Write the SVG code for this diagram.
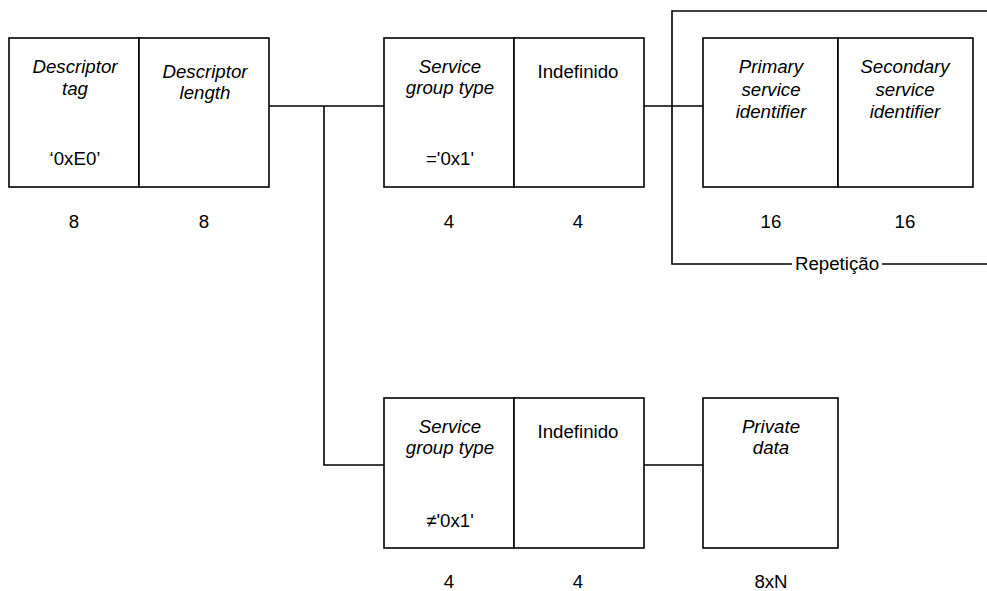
<svg xmlns="http://www.w3.org/2000/svg" width="987" height="591" viewBox="0 0 987 591">
<style>
.box{fill:#fff;stroke:#000;stroke-width:1.6}
.ln{fill:none;stroke:#000;stroke-width:1.6}
text{font-family:"Liberation Sans",Arial,sans-serif;font-size:18.7px;fill:#000;text-anchor:middle}
.it{font-style:italic}
</style>
<rect width="987" height="591" fill="#fff"/>
<g id="connectors">
<polyline class="ln" points="269,106 384,106"/>
<polyline class="ln" points="324,106 324,465 384,465"/>
<polyline class="ln" points="644,106 703,106"/>
<polyline class="ln" points="644,465 703,465"/>
<polyline class="ln" points="987,11 672,11 672,264 792,264"/>
<polyline class="ln" points="882,264 987,264"/>
<text x="837" y="270">Repetição</text>
</g>
<g id="descriptor_tag">
<rect class="box" x="9" y="38" width="130" height="149"/>
<text class="it" x="75" y="73">Descriptor</text>
<text class="it" x="75" y="95">tag</text>
<text x="75" y="165">‘0xE0’</text>
<text x="74" y="228">8</text>
</g>
<g id="descriptor_length">
<rect class="box" x="139" y="38" width="130" height="149"/>
<text class="it" x="205" y="78">Descriptor</text>
<text class="it" x="205" y="99">length</text>
<text x="204" y="228">8</text>
</g>
<g id="service_group_type_1">
<rect class="box" x="384" y="38" width="130" height="149"/>
<text class="it" x="450" y="73">Service</text>
<text class="it" x="450" y="94">group type</text>
<text x="450" y="165">='0x1'</text>
<text x="449" y="228">4</text>
</g>
<g id="indefinido_1">
<rect class="box" x="514" y="38" width="130" height="149"/>
<text x="578" y="78">Indefinido</text>
<text x="578" y="228">4</text>
</g>
<g id="primary_service_identifier">
<rect class="box" x="703" y="38" width="135" height="149"/>
<text class="it" x="771" y="73">Primary</text>
<text class="it" x="771" y="96">service</text>
<text class="it" x="771" y="118">identifier</text>
<text x="771" y="228">16</text>
</g>
<g id="secondary_service_identifier">
<rect class="box" x="838" y="38" width="135" height="149"/>
<text class="it" x="905" y="73">Secondary</text>
<text class="it" x="905" y="96">service</text>
<text class="it" x="905" y="118">identifier</text>
<text x="905" y="228">16</text>
</g>
<g id="service_group_type_2">
<rect class="box" x="384" y="398" width="130" height="150"/>
<text class="it" x="450" y="433">Service</text>
<text class="it" x="450" y="454">group type</text>
<text x="450" y="527">≠'0x1'</text>
<text x="449" y="588">4</text>
</g>
<g id="indefinido_2">
<rect class="box" x="514" y="398" width="130" height="150"/>
<text x="578" y="438">Indefinido</text>
<text x="578" y="588">4</text>
</g>
<g id="private_data">
<rect class="box" x="703" y="398" width="135" height="150"/>
<text class="it" x="771" y="433">Private</text>
<text class="it" x="771" y="454">data</text>
<text x="771" y="588">8xN</text>
</g>
</svg>
